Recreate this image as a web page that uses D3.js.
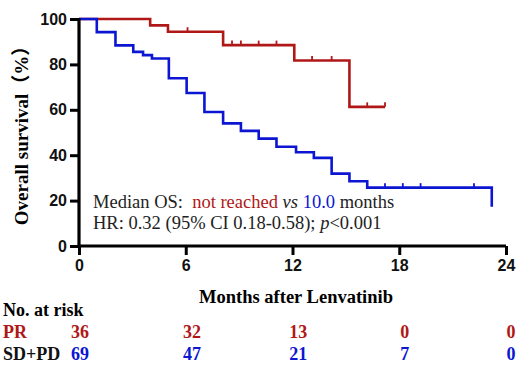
<!DOCTYPE html>
<html>
<head>
<meta charset="utf-8">
<script src="https://cdn.jsdelivr.net/npm/d3@7"></script>
<style>
  body { margin: 0; background: #fff; }
  svg { display: block; }
  .serif { font-family: "Liberation Serif", "Times New Roman", "Noto Sans CJK SC", serif; }
  .sans { font-family: "Liberation Sans", Arial, sans-serif; font-weight: bold; }
</style>
</head>
<body>
<svg id="main-svg" width="528" height="367"></svg>
<script>
// Kaplan-Meier steps (months, % surviving)
var prTimes = [0, 4.0, 5.0, 8.1, 12.1, 15.2, 17.2];
var prSurv = [100, 97.2, 94.4, 88.5, 81.7, 61.3, 61.3];
var prCensor = [6.1, 8.6, 9.1, 10.1, 11.1, 13.1, 14.2, 16.2, 17.2];

var sdTimes = [0, 1.0, 2.05, 3.05, 3.6, 4.1, 5.05, 6.05, 7.05, 8.1, 9.1, 10.1, 11.1, 12.2, 13.2, 14.2, 15.2, 16.2, 23.2];
var sdSurv = [100, 94.2, 88.4, 85.5, 84.1, 82.6, 73.9, 67.4, 59.0, 54.0, 50.7, 47.3, 43.7, 41.3, 38.8, 31.9, 28.5, 25.7, 17.3];
var sdCensor = [17.2, 18.2, 19.2, 22.2];

var xTicks = [0, 6, 12, 18, 24];
var yTicks = [0, 20, 40, 60, 80, 100];

// number at risk
var riskTimes = [0, 6, 12, 18, 24];
var prRisk = [36, 32, 13, 0, 0];
var sdRisk = [69, 47, 21, 7, 0];

var red = '#b01818';
var blue = '#0c16d2';

var svg = d3.select('#main-svg');

var x = d3.scaleLinear().domain([0, 24]).range([79, 506]);
var y = d3.scaleLinear().domain([0, 100]).range([246, 19]);

function stepData(times, surv) {
    return times.map(function(t, i) { return [t, surv[i]]; });
}
function survAt(times, surv, t) {
    var v = surv[0];
    for (var i = 0; i < times.length; i++) {
        if (times[i] <= t) v = surv[i];
    }
    return v;
}

var line = d3.line()
    .x(function(d) { return x(d[0]); })
    .y(function(d) { return y(d[1]); })
    .curve(d3.curveStepAfter);

function drawCurve(times, surv, censor, color) {
    svg.append('path')
        .datum(stepData(times, surv))
        .attr('fill', 'none')
        .attr('stroke', color)
        .attr('stroke-width', 2.6)
        .attr('d', line);
    // censor marks, small upward ticks
    svg.selectAll(null)
        .data(censor)
        .enter().append('line')
        .attr('x1', function(d) { return x(d); })
        .attr('x2', function(d) { return x(d); })
        .attr('y1', function(d) { return y(survAt(times, surv, d)); })
        .attr('y2', function(d) { return y(survAt(times, surv, d)) - 4.5; })
        .attr('stroke', color)
        .attr('stroke-width', 1.8);
}

drawCurve(prTimes, prSurv, prCensor, red);
drawCurve(sdTimes, sdSurv, sdCensor, blue);

// axes
var yAxis = d3.axisLeft(y).tickValues(yTicks).tickSize(9).tickPadding(3);
var xAxis = d3.axisBottom(x).tickValues(xTicks).tickSize(9).tickPadding(5);

var gy = svg.append('g').attr('transform', 'translate(' + x(0) + ',0)').call(yAxis);
var gx = svg.append('g').attr('transform', 'translate(0,' + y(0) + ')').call(xAxis);

[gy, gx].forEach(function(g) {
    g.select('.domain').attr('stroke', '#000').attr('stroke-width', 3.2);
    g.selectAll('.tick line').attr('stroke', '#000').attr('stroke-width', 3);
    g.selectAll('.tick text')
        .attr('class', 'sans')
        .attr('fill', '#111')
        .style('font-size', '16px');
});
gy.select('.domain').attr('d', 'M0,' + (y(100) - 1) + 'V' + (y(0) + 1.5));
gx.select('.domain').attr('d', 'M' + (x(0) - 1.5) + ',0H' + x(24));

// axis titles
svg.append('text')
    .attr('class', 'serif')
    .attr('transform', 'translate(28,' + 131 + ') rotate(-90)')
    .attr('text-anchor', 'middle')
    .style('font-size', '19px')
    .style('font-weight', 'bold')
    .text('Overall survival（%）');

svg.append('text')
    .attr('class', 'serif')
    .attr('x', 296)
    .attr('y', 303)
    .attr('text-anchor', 'middle')
    .style('font-size', '18.5px')
    .style('font-weight', 'bold')
    .text('Months after Lenvatinib');

// annotation
var note = svg.append('text')
    .attr('class', 'serif')
    .attr('x', 93)
    .attr('y', 208)
    .style('font-size', '18.5px')
    .attr('fill', '#222');
note.append('tspan').text('Median OS:\u00a0\u00a0');
note.append('tspan').attr('fill', red).text('not reached ');
note.append('tspan').style('font-style', 'italic').text('vs ');
note.append('tspan').attr('fill', blue).text('10.0');
note.append('tspan').text(' months');

var note2 = svg.append('text')
    .attr('class', 'serif')
    .attr('x', 93)
    .attr('y', 229)
    .style('font-size', '18.5px')
    .attr('fill', '#222');
note2.append('tspan').text('HR: 0.32 (95% CI 0.18-0.58); ');
note2.append('tspan').style('font-style', 'italic').text('p');
note2.append('tspan').text('<0.001');

// number at risk table
var riskX = d3.scaleLinear().domain([0, 6, 24]).range([80, 192, 511]);

svg.append('text')
    .attr('class', 'serif')
    .attr('x', 3)
    .attr('y', 316)
    .style('font-size', '18px')
    .style('font-weight', 'bold')
    .text('No. at risk');

var rows = [
    { name: 'PR', values: prRisk, color: red, y: 338 },
    { name: 'SD+PD', values: sdRisk, color: blue, y: 360 }
];

rows.forEach(function(r) {
    svg.append('text')
        .attr('class', 'serif')
        .attr('x', 3)
        .attr('y', r.y)
        .attr('fill', r.name == 'PR' ? red : '#111')
        .style('font-size', '18px')
        .style('font-weight', 'bold')
        .text(r.name);
    svg.selectAll(null)
        .data(r.values)
        .enter().append('text')
        .attr('class', 'serif')
        .attr('x', function(d, i) { return riskX(riskTimes[i]); })
        .attr('y', r.y)
        .attr('text-anchor', 'middle')
        .attr('fill', r.color)
        .style('font-size', '18px')
        .style('font-weight', 'bold')
        .text(function(d) { return d; });
});
</script>
</body>
</html>
